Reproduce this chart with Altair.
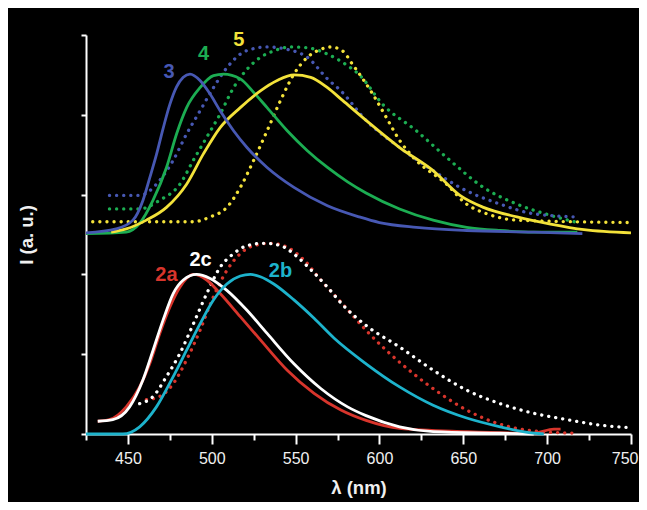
import altair as alt
import pandas as pd

# ---- data (wavelength in nm, intensity in arbitrary units) ----
s3_nm = [425, 443, 453, 459, 463, 467, 471, 475, 479, 483, 487, 493, 499, 505, 513, 521, 533, 549, 569, 588, 600, 622, 652, 692, 721]
s3_I = [2.52, 2.57, 2.68, 2.93, 3.21, 3.50, 3.83, 4.13, 4.35, 4.47, 4.51, 4.43, 4.26, 4.05, 3.80, 3.59, 3.34, 3.09, 2.86, 2.72, 2.65, 2.59, 2.55, 2.53, 2.51]

s4_nm = [425, 449, 457, 465, 473, 479, 485, 493, 501, 507, 517, 525, 533, 545, 557, 569, 581, 592, 612, 632, 652, 672, 692, 718]
s4_I = [2.51, 2.53, 2.64, 2.93, 3.34, 3.76, 4.09, 4.34, 4.49, 4.51, 4.45, 4.28, 4.09, 3.80, 3.55, 3.34, 3.16, 3.02, 2.82, 2.68, 2.59, 2.55, 2.53, 2.53]

s5_nm = [440, 449, 461, 473, 485, 495, 505, 517, 529, 539, 549, 559, 569, 578, 592, 612, 632, 648, 662, 682, 702, 722, 750]
s5_I = [2.53, 2.57, 2.68, 2.84, 3.13, 3.51, 3.84, 4.09, 4.30, 4.43, 4.50, 4.47, 4.34, 4.18, 3.93, 3.59, 3.30, 2.99, 2.84, 2.72, 2.63, 2.56, 2.52]

d3_nm = [439, 457, 469, 477, 485, 493, 501, 509, 517, 525, 533, 545, 557, 569, 577, 592, 612, 632, 648, 672, 692, 718]
d3_I = [2.99, 2.99, 3.18, 3.43, 3.76, 4.05, 4.34, 4.59, 4.76, 4.83, 4.85, 4.82, 4.72, 4.45, 4.30, 3.93, 3.59, 3.30, 3.09, 2.88, 2.76, 2.72]

d4_nm = [439, 457, 469, 481, 489, 497, 505, 513, 521, 529, 537, 547, 557, 569, 580, 588, 602, 622, 642, 662, 682, 702, 718]
d4_I = [2.82, 2.82, 2.93, 3.13, 3.43, 3.72, 4.01, 4.34, 4.57, 4.72, 4.80, 4.85, 4.84, 4.76, 4.63, 4.50, 4.13, 3.80, 3.43, 3.09, 2.88, 2.74, 2.65]

d5_nm = [429, 489, 499, 509, 517, 525, 533, 541, 549, 557, 565, 571, 578, 584, 596, 604, 612, 620, 640, 652, 664, 682, 750]
d5_I = [2.66, 2.66, 2.72, 2.84, 3.09, 3.43, 3.80, 4.18, 4.51, 4.72, 4.82, 4.85, 4.80, 4.63, 4.26, 3.97, 3.68, 3.47, 3.13, 2.88, 2.76, 2.68, 2.65]

s2a_nm = [432, 439, 449, 457, 463, 469, 475, 481, 489, 497, 505, 517, 529, 545, 561, 577, 592, 612, 652, 692, 704, 708]
s2a_I = [0.16, 0.18, 0.34, 0.59, 0.88, 1.26, 1.59, 1.84, 2.00, 1.93, 1.76, 1.47, 1.18, 0.80, 0.51, 0.30, 0.17, 0.07, 0.03, 0.01, 0.06, 0.06]

s2c_nm = [432, 441, 451, 459, 465, 471, 477, 483, 491, 499, 509, 521, 533, 549, 565, 581, 592, 612, 632, 672, 692]
s2c_I = [0.16, 0.18, 0.34, 0.68, 1.05, 1.43, 1.76, 1.93, 2.00, 1.95, 1.80, 1.55, 1.26, 0.88, 0.57, 0.34, 0.23, 0.09, 0.03, 0.01, 0.00]

s2b_nm = [425, 447, 457, 467, 477, 485, 493, 501, 509, 517, 523, 529, 537, 549, 561, 573, 592, 612, 632, 652, 672, 692, 698]
s2b_I = [0.00, 0.00, 0.09, 0.34, 0.72, 1.05, 1.38, 1.68, 1.88, 1.98, 2.00, 1.97, 1.88, 1.68, 1.45, 1.20, 0.88, 0.59, 0.36, 0.20, 0.09, 0.01, 0.00]

d2c_nm = [457, 465, 473, 481, 489, 497, 505, 513, 521, 531, 541, 551, 559, 569, 578, 592, 612, 632, 652, 672, 692, 712, 732, 749]
d2c_I = [0.38, 0.47, 0.72, 1.01, 1.38, 1.76, 2.09, 2.26, 2.36, 2.39, 2.36, 2.22, 2.06, 1.84, 1.62, 1.36, 1.09, 0.80, 0.55, 0.38, 0.26, 0.18, 0.11, 0.08]

d2a_nm = [461, 469, 477, 485, 493, 501, 509, 517, 525, 535, 545, 555, 565, 578, 592, 604, 620, 636, 652, 668, 682, 696, 718]
d2a_I = [0.43, 0.47, 0.63, 0.93, 1.30, 1.72, 2.05, 2.26, 2.36, 2.39, 2.34, 2.18, 1.93, 1.63, 1.30, 1.05, 0.76, 0.51, 0.30, 0.15, 0.07, 0.03, 0.01]

series_names = ["2a", "2c", "2b", "4", "5", "3"]
series_colors = ["#d8352c", "#ffffff", "#1db3cc", "#1cad52", "#f3e23a", "#4758b3"]

x_ticks = [425, 450, 475, 500, 525, 550, 575, 600, 625, 650, 675, 700, 725, 750]
y_ticks = [0, 1, 2, 3, 4, 5]

label_text = ["3", "4", "5", "2a", "2c", "2b"]
label_nm = [474.5, 495.1, 516.2, 473.0, 493.3, 541.0]
label_I = [4.54, 4.76, 4.94, 1.99, 2.175, 2.04]

# ---- build tables ----
def frame(nm, I, name, style):
    return pd.DataFrame({"nm": nm, "I": I, "series": name, "style": style,
                         "key": name + "-" + style, "idx": range(len(nm))})

solid = pd.concat([
    frame(s2a_nm, s2a_I, "2a", "solid"),
    frame(s2c_nm, s2c_I, "2c", "solid"),
    frame(s2b_nm, s2b_I, "2b", "solid"),
    frame(s4_nm, s4_I, "4", "solid"),
    frame(s5_nm, s5_I, "5", "solid"),
    frame(s3_nm, s3_I, "3", "solid"),
])
dotted = pd.concat([
    frame(d2a_nm, d2a_I, "2a", "dotted"),
    frame(d2c_nm, d2c_I, "2c", "dotted"),
    frame(d4_nm, d4_I, "4", "dotted"),
    frame(d5_nm, d5_I, "5", "dotted"),
    frame(d3_nm, d3_I, "3", "dotted"),
])
labels = pd.DataFrame({"nm": label_nm, "I": label_I, "series": label_text})

color = alt.Color("series:N", scale=alt.Scale(domain=series_names, range=series_colors), legend=None)

x_enc = alt.X(
    "nm:Q",
    scale=alt.Scale(domain=[425, 750], nice=False, zero=False),
    axis=alt.Axis(
        values=x_ticks,
        labelExpr="datum.value % 50 === 0 ? datum.label : ''",
        tickSize={"condition": {"test": "datum.value % 50 === 0", "value": 10}, "value": 6},
        labelFlush=True,
        labelFlushOffset=7,
        title="λ (nm)",
        grid=False,
        domainColor="white", domainWidth=2,
        tickColor="white", tickWidth=2,
        labelColor="#f0f0f0", labelFont="Liberation Sans", labelFontSize=16,
        labelPadding=6,
        titleColor="#f0f0f0", titleFont="Liberation Sans", titleFontSize=18.5,
        titleFontWeight="bold", titlePadding=12,
    ),
)
y_enc = alt.Y(
    "I:Q",
    scale=alt.Scale(domain=[0, 5], nice=False, zero=False),
    axis=alt.Axis(
        values=y_ticks, labels=False, tickSize=5, grid=False,
        title="I (a. u.)",
        domainColor="white", domainWidth=2,
        tickColor="white", tickWidth=2,
        titleColor="#f0f0f0", titleFont="Liberation Sans", titleFontSize=18.5,
        titleFontWeight="bold", titlePadding=44,
    ),
)

dotted_layer = alt.Chart(dotted).mark_line(
    strokeWidth=3.3, strokeDash=[0.1, 7], strokeCap="round", interpolate="monotone"
).encode(x=x_enc, y=y_enc, color=color, detail="key:N", order="idx:Q")

solid_layer = alt.Chart(solid).mark_line(
    strokeWidth=2.8, interpolate="monotone"
).encode(x=x_enc, y=y_enc, color=color, detail="key:N", order="idx:Q")

text_layer = alt.Chart(labels).mark_text(
    font="Liberation Sans", fontSize=20, fontWeight="bold", align="center", baseline="middle"
).encode(x=x_enc, y=y_enc, color=color, text="series:N")

chart = alt.layer(dotted_layer, solid_layer, text_layer).properties(
    width=545,
    height=399,
    background="black",
    padding={"left": 78, "top": 27, "right": 8, "bottom": 68},
    autosize=alt.AutoSizeParams(type="none"),
).configure_view(stroke=None)

chart.save("out.html", embed_options={"renderer": "svg", "actions": False})
